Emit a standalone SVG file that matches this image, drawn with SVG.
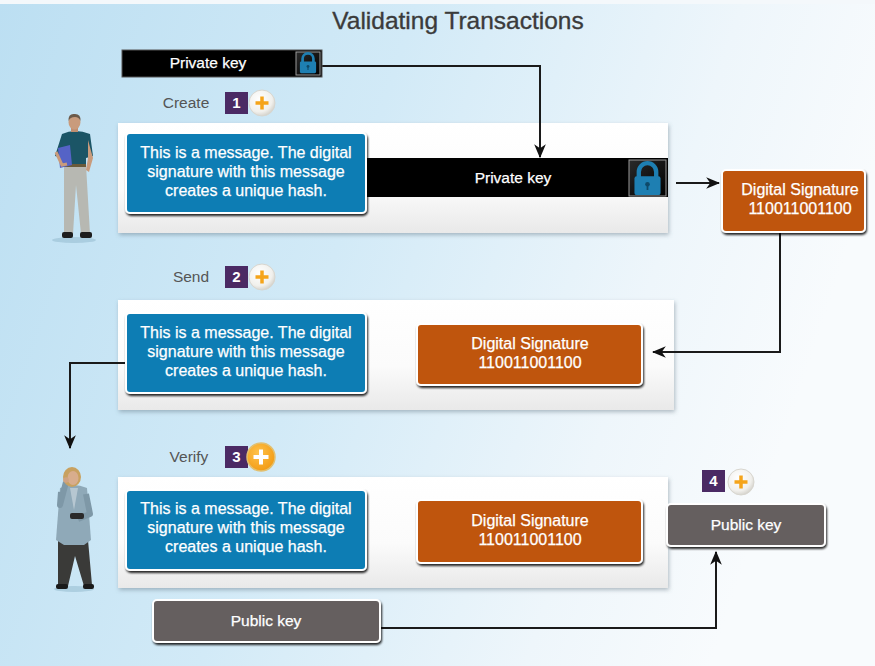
<svg xmlns="http://www.w3.org/2000/svg" width="875" height="666" viewBox="0 0 875 666">
  <defs>
    <linearGradient id="bg" x1="0" y1="0" x2="1" y2="0.25">
      <stop offset="0" stop-color="#bcdff2"/>
      <stop offset="0.45" stop-color="#d2eaf7"/>
      <stop offset="0.8" stop-color="#eef6fb"/>
      <stop offset="1" stop-color="#f8fbfd"/>
    </linearGradient>
    <linearGradient id="panelFill" x1="0" y1="0" x2="0" y2="1">
      <stop offset="0" stop-color="#ffffff"/>
      <stop offset="0.6" stop-color="#fbfbfb"/>
      <stop offset="1" stop-color="#e9e9e9"/>
    </linearGradient>
    <radialGradient id="plusBtn" cx="0.4" cy="0.35" r="0.7">
      <stop offset="0" stop-color="#ffffff"/>
      <stop offset="0.7" stop-color="#f1f0ec"/>
      <stop offset="1" stop-color="#cfcdc6"/>
    </radialGradient>
    <radialGradient id="plusBtnHot" cx="0.4" cy="0.35" r="0.7">
      <stop offset="0" stop-color="#ffc24a"/>
      <stop offset="1" stop-color="#f29a12"/>
    </radialGradient>
    <linearGradient id="lockCell" x1="0" y1="0" x2="1" y2="1">
      <stop offset="0" stop-color="#2a2a2a"/>
      <stop offset="1" stop-color="#000000"/>
    </linearGradient>
    <filter id="boxShadow" x="-10%" y="-10%" width="120%" height="130%">
      <feDropShadow dx="1" dy="2" stdDeviation="0.8" flood-color="#000" flood-opacity="0.85"/>
    </filter>
    <filter id="panelShadow" x="-5%" y="-10%" width="110%" height="125%">
      <feDropShadow dx="1" dy="2" stdDeviation="2" flood-color="#5a6f7a" flood-opacity="0.45"/>
    </filter>
    <marker id="arrow" markerUnits="userSpaceOnUse" markerWidth="14" markerHeight="14" viewBox="0 0 12 12" refX="11" refY="6" orient="auto">
      <path d="M0,1 L12,6 L0,11 L3.5,6 Z" fill="#111"/>
    </marker>
    <!-- padlock glyph, 20 x 24 -->
    <g id="lock">
      <path d="M4,11 V7.5 A6,6 0 0 1 16,7.5 V11" fill="none" stroke="#1e7fb2" stroke-width="3"/>
      <rect x="1" y="10.5" width="18" height="13" rx="1.5" fill="#1e7fb2"/>
      <circle cx="10" cy="16" r="1.6" fill="#0f4a6a"/>
      <rect x="9.4" y="16.5" width="1.2" height="3.5" fill="#0f4a6a"/>
    </g>
  </defs>

  <style>
    .title { font-family: "Liberation Sans", Arial, sans-serif; font-size: 24.5px; fill: #3b3b3b; stroke: #3b3b3b; stroke-width: 0.35; text-anchor: middle; }
    .step { font-family: "Liberation Sans", Arial, sans-serif; font-size: 15.5px; fill: #555555; text-anchor: middle; }
    .msg { font-family: "Liberation Sans", Arial, sans-serif; font-size: 16px; fill: #ffffff; stroke: #ffffff; stroke-width: 0.25; text-anchor: middle; }
    .key { font-family: "Liberation Sans", Arial, sans-serif; font-size: 15.5px; fill: #ffffff; stroke: #ffffff; stroke-width: 0.25; text-anchor: middle; }
    .num { font-family: "Liberation Sans", Arial, sans-serif; font-size: 15px; fill: #ffffff; text-anchor: middle; font-weight: bold; }
    .panel { fill: url(#panelFill); filter: url(#panelShadow); }
    .msgBox { fill: #0a7db4; stroke: #ffffff; stroke-width: 2; filter: url(#boxShadow); }
    .sigBox { fill: #bf5508; stroke: #ffffff; stroke-width: 2; filter: url(#boxShadow); }
    .pubBox { fill: #655f5f; stroke: #ffffff; stroke-width: 2; filter: url(#boxShadow); }
    .badge { fill: #4b2a64; }
    .conn { fill: none; stroke: #1a1a1a; stroke-width: 2; }
  </style>

  <!-- backdrop -->
  <rect x="0" y="0" width="875" height="666" fill="url(#bg)"/>
  <rect x="0" y="0" width="875" height="4" fill="#f4f8fb"/>

  <text class="title" x="458" y="29">Validating Transactions</text>

  <!-- stage panels -->
  <g id="panel-create"><rect class="panel" x="118" y="123" width="550" height="110"/></g>
  <g id="panel-send"><rect class="panel" x="118" y="300" width="556" height="110"/></g>
  <g id="panel-verify"><rect class="panel" x="118" y="477" width="550" height="111"/></g>

  <!-- connectors -->
  <g id="connectors">
    <path class="conn" d="M322,66 H540 V157" marker-end="url(#arrow)"/>
    <path class="conn" d="M676,183 H719" marker-end="url(#arrow)"/>
    <path class="conn" d="M780,233 V352 H653" marker-end="url(#arrow)"/>
    <path class="conn" d="M126,363 H70 V448" marker-end="url(#arrow)"/>
    <path class="conn" d="M380,628 H716 V552" marker-end="url(#arrow)"/>
  </g>

  <!-- sender -->
  <g id="sender">
    <ellipse cx="74" cy="240" rx="22" ry="3" fill="#8fb7cc" opacity="0.5"/>
    <!-- legs -->
    <path d="M64,165 L86,165 L90,234 L81,234 L76,185 L73,234 L64,234 Z" fill="#b7b8b2"/>
    <rect x="62" y="232" width="11" height="6" rx="2" fill="#1d1d1d"/>
    <rect x="80" y="232" width="12" height="6" rx="2" fill="#1d1d1d"/>
    <!-- torso -->
    <path d="M62,134 Q75,128 90,134 L93,156 L86,158 L86,167 L64,167 L63,158 L55,156 Z" fill="#1b5566"/>
    <!-- belt -->
    <rect x="64" y="164" width="22" height="3" fill="#6a5a3a"/>
    <!-- folder -->
    <path d="M58,148 L70,145 L72,165 L60,168 Z" fill="#5563c6"/>
    <!-- arms -->
    <path d="M88,140 L93,158 L89,172 L86,170 L88,158 Z" fill="#c99b7c"/>
    <path d="M56,152 L62,165 L67,164" fill="none" stroke="#c99b7c" stroke-width="3"/>
    <!-- head -->
    <rect x="71" y="126" width="7" height="6" fill="#c08e70"/>
    <ellipse cx="74.5" cy="122" rx="6" ry="7.5" fill="#c99b7c"/>
    <path d="M68.5,121 Q68,113 75,114 Q81,114 80.5,121 Q79,117 75,117 Q70,117 68.5,121 Z" fill="#6b5a4a"/>
  </g>

  <!-- receiver -->
  <g id="receiver">
    <ellipse cx="74" cy="589" rx="20" ry="3" fill="#8fb7cc" opacity="0.5"/>
    <!-- trousers -->
    <path d="M58,540 L88,540 L92,585 L84,586 L75,556 L68,586 L58,586 Z" fill="#3a3a38"/>
    <rect x="56" y="584" width="12" height="5" rx="2" fill="#1a1a1a"/>
    <rect x="83" y="584" width="11" height="5" rx="2" fill="#1a1a1a"/>
    <!-- jacket -->
    <path d="M60,488 Q73,482 87,488 L91,540 L84,545 L64,545 L56,540 Z" fill="#8fa9b8"/>
    <path d="M70,488 L74,510 L78,488 Z" fill="#b6c7d1"/>
    <!-- arms: left hand at the phone, right arm across the waist -->
    <path d="M61,492 L60,505 L66,482" fill="none" stroke="#7e98a7" stroke-width="6" stroke-linejoin="round"/>
    <path d="M86,494 L90,514 L78,519" fill="none" stroke="#7e98a7" stroke-width="6" stroke-linejoin="round"/>
    <rect x="70" y="513" width="14" height="6" rx="2" fill="#2a2a2a"/>
    <!-- head -->
    <ellipse cx="72" cy="477" rx="9" ry="10" fill="#c8a160"/>
    <ellipse cx="73" cy="478" rx="5.5" ry="7" fill="#d8ad8d"/>
    <circle cx="66" cy="480" r="2.8" fill="#d0a383"/>
  </g>

  <!-- step 1 : create -->
  <g id="private-key-source">
    <rect x="122" y="50" width="200" height="27" fill="#000000" stroke="#555" stroke-width="1"/>
    <rect x="296" y="52" width="24" height="23" fill="url(#lockCell)" stroke="#9a9a9a" stroke-width="1"/>
    <use href="#lock" transform="translate(299,52) scale(0.9)"/>
    <text class="key" x="208" y="68">Private key</text>
  </g>
  <g id="step1">
    <text class="step" x="186" y="108">Create</text>
    <rect class="badge" x="225" y="92" width="23" height="22"/>
    <text class="num" x="236.5" y="108">1</text>
    <circle cx="262" cy="103" r="13" fill="url(#plusBtn)" stroke="#d8d6cf" stroke-width="1"/>
    <path d="M262,96.5 V109.5 M255.5,103 H268.5" stroke="#f5a41a" stroke-width="3.5"/>
  </g>
  <g id="message-create">
    <rect x="366" y="158" width="302" height="39" fill="#000000"/>
    <rect x="629" y="160" width="37" height="36" fill="url(#lockCell)" stroke="#9a9a9a" stroke-width="1"/>
    <use href="#lock" transform="translate(633,161) scale(1.45)"/>
    <text class="key" x="513" y="183">Private key</text>
    <rect class="msgBox" x="126" y="133" width="240" height="80" rx="4"/>
    <text class="msg" x="246" y="158">This is a message. The digital</text>
    <text class="msg" x="246" y="177">signature with this message</text>
    <text class="msg" x="246" y="196">creates a unique hash.</text>
  </g>
  <g id="signature-create">
    <rect class="sigBox" x="722" y="170" width="143" height="62" rx="4"/>
    <text class="msg" x="800" y="195">Digital Signature</text>
    <text class="msg" x="800" y="214">110011001100</text>
  </g>

  <!-- step 2 : send -->
  <g id="step2">
    <text class="step" x="191" y="282">Send</text>
    <rect class="badge" x="225" y="266" width="23" height="22"/>
    <text class="num" x="236.5" y="282">2</text>
    <circle cx="262" cy="277" r="13" fill="url(#plusBtn)" stroke="#d8d6cf" stroke-width="1"/>
    <path d="M262,270.5 V283.5 M255.5,277 H268.5" stroke="#f5a41a" stroke-width="3.5"/>
  </g>
  <g id="message-send">
    <rect class="msgBox" x="126" y="313" width="240" height="80" rx="4"/>
    <text class="msg" x="246" y="338">This is a message. The digital</text>
    <text class="msg" x="246" y="357">signature with this message</text>
    <text class="msg" x="246" y="376">creates a unique hash.</text>
  </g>
  <g id="signature-send">
    <rect class="sigBox" x="417" y="324" width="225" height="61" rx="4"/>
    <text class="msg" x="530" y="349">Digital Signature</text>
    <text class="msg" x="530" y="368">110011001100</text>
  </g>

  <!-- step 3 : verify -->
  <g id="step3">
    <text class="step" x="189" y="462">Verify</text>
    <rect class="badge" x="225" y="446" width="23" height="22"/>
    <text class="num" x="236.5" y="462">3</text>
    <circle cx="261" cy="457" r="14" fill="url(#plusBtnHot)" stroke="#e2c070" stroke-width="1.5"/>
    <path d="M261,449.5 V464.5 M253.5,457 H268.5" stroke="#ffffff" stroke-width="4"/>
  </g>
  <g id="message-verify">
    <rect class="msgBox" x="126" y="490" width="240" height="80" rx="4"/>
    <text class="msg" x="246" y="514">This is a message. The digital</text>
    <text class="msg" x="246" y="533">signature with this message</text>
    <text class="msg" x="246" y="552">creates a unique hash.</text>
  </g>
  <g id="signature-verify">
    <rect class="sigBox" x="417" y="500" width="225" height="63" rx="4"/>
    <text class="msg" x="530" y="526">Digital Signature</text>
    <text class="msg" x="530" y="545">110011001100</text>
  </g>

  <!-- step 4 : public key -->
  <g id="step4">
    <rect class="badge" x="702" y="470" width="23" height="22"/>
    <text class="num" x="713.5" y="486">4</text>
    <circle cx="741" cy="482" r="13" fill="url(#plusBtn)" stroke="#d8d6cf" stroke-width="1"/>
    <path d="M741,475.5 V488.5 M734.5,482 H747.5" stroke="#f5a41a" stroke-width="3.5"/>
  </g>
  <g id="public-key-check">
    <rect class="pubBox" x="667" y="504" width="158" height="42" rx="4"/>
    <text class="key" x="746" y="530">Public key</text>
  </g>
  <g id="public-key-source">
    <rect class="pubBox" x="153" y="600" width="227" height="42" rx="4"/>
    <text class="key" x="266" y="626">Public key</text>
  </g>
</svg>
